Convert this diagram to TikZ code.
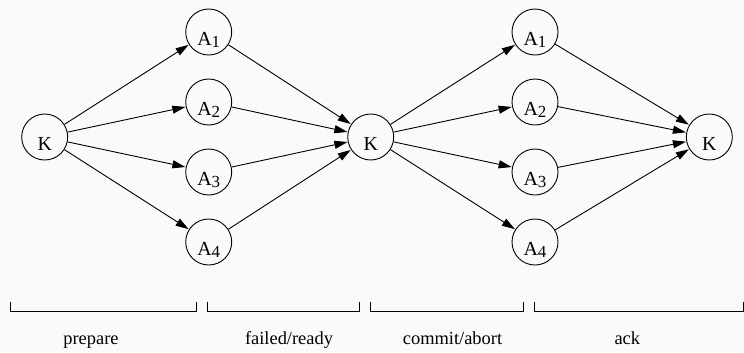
\documentclass[tikz,border=0pt]{standalone}
\usepackage{fontspec}
\setmainfont{Liberation Serif}
\usetikzlibrary{arrows.meta}
\newcommand\idx[1]{\raisebox{-2bp}{\fontsize{17}{17}\selectfont#1}}
\tikzset{
  site/.style={draw, circle, line width=0.9bp, inner sep=0pt, minimum size=46bp,
    font=\fontsize{20}{21}\selectfont, text height=26bp, text depth=0pt},
  msg/.style={line width=0.9bp, -{Triangle[length=13bp,width=8bp]}, shorten >=0.4bp},
  phase/.style={anchor=base, font=\fontsize{18.5}{20}\selectfont},
}

\begin{document}
\begin{tikzpicture}[x=1bp, y=-1bp]
			%%%%% START %%%%%
			
			\fill[black!2] (0, 0) rectangle (744, 352);
			\useasboundingbox (0, 0) rectangle (744, 352);
			
			\node[site] (k1) at (44.7, 137) {K};
			\node[site] (a11) at (208.7, 32) {A\idx{1}};
			\node[site] (a12) at (208.7, 102) {A\idx{2}};
			\node[site] (a13) at (208.7, 172) {A\idx{3}};
			\node[site] (a14) at (208.7, 242) {A\idx{4}};
			
			\node[site] (k2) at (370.7, 137) {K};
			\node[site] (a21) at (535, 32) {A\idx{1}};
			\node[site] (a22) at (535, 102) {A\idx{2}};
			\node[site] (a23) at (535, 172) {A\idx{3}};
			\node[site] (a24) at (535, 242) {A\idx{4}};
			
			\node[site] (k3) at (709.3, 137) {K};
			
			\draw[msg] (k1) -- (a11);
			\draw[msg] (k1) -- (a12);
			\draw[msg] (k1) -- (a13);
			\draw[msg] (k1) -- (a14);
			
			\draw[msg] (a11) -- (k2);
			\draw[msg] (a12) -- (k2);
			\draw[msg] (a13) -- (k2);
			\draw[msg] (a14) -- (k2);
			
			\draw[msg] (k2) -- (a21);
			\draw[msg] (k2) -- (a22);
			\draw[msg] (k2) -- (a23);
			\draw[msg] (k2) -- (a24);
			
			\draw[msg] (a21) -- (k3);
			\draw[msg] (a22) -- (k3);
			\draw[msg] (a23) -- (k3);
			\draw[msg] (a24) -- (k3);
			
			\draw[line width=0.9bp] (10, 301.7) -- (10, 311.7) -- (196.7, 311.7) -- (196.7, 301.7);
			\draw[line width=0.9bp] (207.7, 301.7) -- (207.7, 311.7) -- (359.3, 311.7) -- (359.3, 301.7);
			\draw[line width=0.9bp] (370.7, 301.7) -- (370.7, 311.7) -- (523, 311.7) -- (523, 301.7);
			\draw[line width=0.9bp] (534.7, 301.7) -- (534.7, 311.7) -- (743.3, 311.7) -- (743.3, 301.7);
			
			\node[phase] (prepare) at (91, 344) {prepare};
			\node[phase] (ready) at (289, 344) {failed/ready};
			\node[phase] (commit) at (452.5, 344) {commit/abort};
			\node[phase] (ack) at (627.3, 344) {ack};
			
			%%%%% END %%%%%
\end{tikzpicture}
\end{document}
